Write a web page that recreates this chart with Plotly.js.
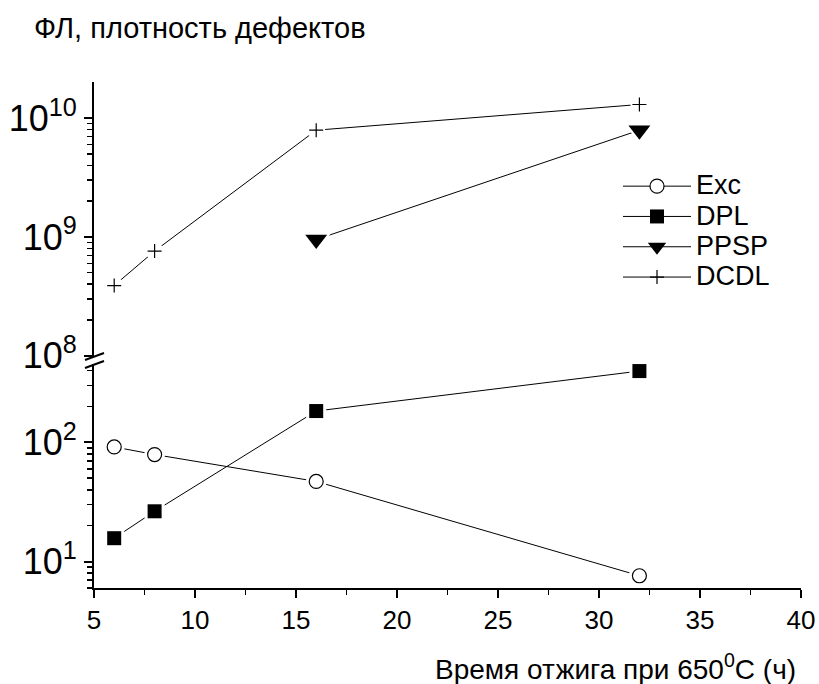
<!DOCTYPE html>
<html>
<head>
<meta charset="utf-8">
<script src="https://cdn.plot.ly/plotly-3.0.1.min.js"></script>
<style>
  html, body { margin: 0; padding: 0; background: #fff; }
  #chart { width: 819px; height: 684px; }
</style>
</head>
<body>
<div id="chart"></div>
<script>
// Annealing time at 650 °C, hours
const hours = [6, 8, 16, 32];
const ppspHours = [16, 32];

// Lower panel (PL intensity)
const excValues = [91.5, 79, 47, 7.6];
const dplValues = [15.7, 26.4, 183, 396];

// Upper panel (defect density)
const ppspValues = [9.5e8, 7.9e9];
const dcdlValues = [3.9e8, 7.6e8, 7.9e9, 1.3e10];

const seriesNames = ['Exc', 'DPL', 'PPSP', 'DCDL'];

// Tick positions of the two broken log axes
const lowerMajor = [10, 100];
const lowerMajorText = ['10<sup>1</sup>', '10<sup>2</sup>'];
const lowerMinor = [6, 7, 8, 9, 20, 30, 40, 50, 60, 70, 80, 90, 200, 300, 400];
const upperMajor = [1e8, 1e9, 1e10];
const upperMajorText = ['10<sup>8</sup>', '10<sup>9</sup>', '10<sup>10</sup>'];
const upperMinor = [2e8, 3e8, 4e8, 5e8, 6e8, 7e8, 8e8, 9e8,
                    2e9, 3e9, 4e9, 5e9, 6e9, 7e9, 8e9, 9e9];

const FONT = 'Liberation Sans, Arial, Helvetica, sans-serif';
const BLACK = '#000';

const series = [
  { name: seriesNames[0], x: hours, y: excValues, axis: 'y',
    symbol: 'circle', color: '#fff', size: 14, lineWidth: 1.2, halo: 'circle', haloSize: 21 },
  { name: seriesNames[1], x: hours, y: dplValues, axis: 'y',
    symbol: 'square', color: BLACK, size: 14, lineWidth: 0, halo: 'square', haloSize: 20 },
  { name: seriesNames[2], x: ppspHours, y: ppspValues, axis: 'y2',
    symbol: 'triangle-down', color: BLACK, size: 19, lineWidth: 0, halo: 'triangle-down', haloSize: 26 },
  { name: seriesNames[3], x: hours, y: dcdlValues, axis: 'y2',
    symbol: 'cross-thin-open', color: BLACK, size: 10, lineWidth: 1.2, halo: 'circle', haloSize: 18 }
];

// Legend labels are set a little larger than the row spacing font
const legendLabel = name => '<span style="font-size:27px">' + name + '</span>';

const traces = [];
// Connecting lines (these traces also carry the legend entries)
series.forEach(s => traces.push({
  type: 'scatter', mode: 'lines+markers', name: legendLabel(s.name),
  x: s.x, y: s.y, yaxis: s.axis,
  line: { color: BLACK, width: 1 },
  marker: { symbol: s.symbol, size: s.size, color: s.color,
            line: { color: BLACK, width: s.lineWidth } }
}));
// White halos leave a small gap between each line and its symbols
series.forEach(s => traces.push({
  type: 'scatter', mode: 'markers', showlegend: false, hoverinfo: 'skip',
  x: s.x, y: s.y, yaxis: s.axis,
  marker: { symbol: s.halo, size: s.haloSize, color: '#fff', line: { width: 0 } }
}));
// Symbols on top
series.forEach(s => traces.push({
  type: 'scatter', mode: 'markers', showlegend: false,
  x: s.x, y: s.y, yaxis: s.axis,
  marker: { symbol: s.symbol, size: s.size, color: s.color,
            line: { color: BLACK, width: s.lineWidth } }
}));

const plotH = 684 - 82 - 96;
const lowerTop = (588 - 364) / plotH;
const upperBottom = (588 - 357) / plotH;
const px = p => (p - 94) / 707;          // horizontal pixel -> paper
const py = p => (588 - p) / plotH;       // vertical pixel -> paper

const commonY = {
  type: 'log', showgrid: false, zeroline: false,
  showline: true, linecolor: BLACK, linewidth: 2,
  ticks: 'outside', ticklen: 8, tickwidth: 2, tickcolor: BLACK,
  tickmode: 'array',
  tickfont: { family: FONT, size: 36, color: BLACK }
};

const layout = {
  width: 819, height: 684,
  margin: { l: 94, r: 18, t: 82, b: 96 },
  paper_bgcolor: '#fff', plot_bgcolor: '#fff',
  font: { family: FONT, color: BLACK },
  title: {
    text: 'ФЛ, плотность дефектов',
    font: { family: FONT, size: 29, color: BLACK },
    xref: 'container', yref: 'container',
    x: 34 / 819, xanchor: 'left',
    y: 1 - 28 / 684, yanchor: 'middle'
  },
  xaxis: {
    range: [5, 40], anchor: 'y',
    showgrid: false, zeroline: false,
    showline: true, linecolor: BLACK, linewidth: 2,
    ticks: 'outside', ticklen: 8, tickwidth: 2, tickcolor: BLACK,
    tick0: 5, dtick: 5,
    tickfont: { family: FONT, size: 26, color: BLACK },
    minor: { dtick: 2.5, tick0: 5, ticks: 'outside', ticklen: 5, tickwidth: 1.5, tickcolor: BLACK }
  },
  yaxis: Object.assign({}, commonY, {
    domain: [0, lowerTop],
    range: [Math.log10(6), 2.657],
    tickvals: lowerMajor, ticktext: lowerMajorText,
    minor: { tickmode: 'array', tickvals: lowerMinor, ticks: 'outside',
             ticklen: 5, tickwidth: 1.5, tickcolor: BLACK }
  }),
  yaxis2: Object.assign({}, commonY, {
    domain: [upperBottom, 1], anchor: 'x',
    range: [7.99, 10.303],
    tickvals: upperMajor, ticktext: upperMajorText,
    minor: { tickmode: 'array', tickvals: upperMinor, ticks: 'outside',
             ticklen: 5, tickwidth: 1.5, tickcolor: BLACK }
  }),
  legend: {
    x: px(618), y: py(166), xanchor: 'left', yanchor: 'top',
    bgcolor: 'rgba(0,0,0,0)', borderwidth: 0,
    font: { family: FONT, size: 21, color: BLACK },
    itemwidth: 68, tracegroupgap: 0
  },
  annotations: [{
    text: 'Время отжига при 650<sup>0</sup>C (ч)',
    xref: 'paper', yref: 'paper',
    x: px(798), xanchor: 'right',
    y: py(667), yanchor: 'middle',
    showarrow: false,
    font: { family: FONT, size: 28, color: BLACK }
  }],
  // axis-break marks
  shapes: [
    { type: 'line', xref: 'paper', yref: 'paper',
      x0: px(85), y0: py(360), x1: px(104), y1: py(353),
      line: { color: BLACK, width: 2 } },
    { type: 'line', xref: 'paper', yref: 'paper',
      x0: px(85), y0: py(368), x1: px(104), y1: py(361),
      line: { color: BLACK, width: 2 } }
  ],
  showlegend: true
};

Plotly.newPlot('chart', traces, layout, { staticPlot: true, displayModeBar: false });
</script>
</body>
</html>
